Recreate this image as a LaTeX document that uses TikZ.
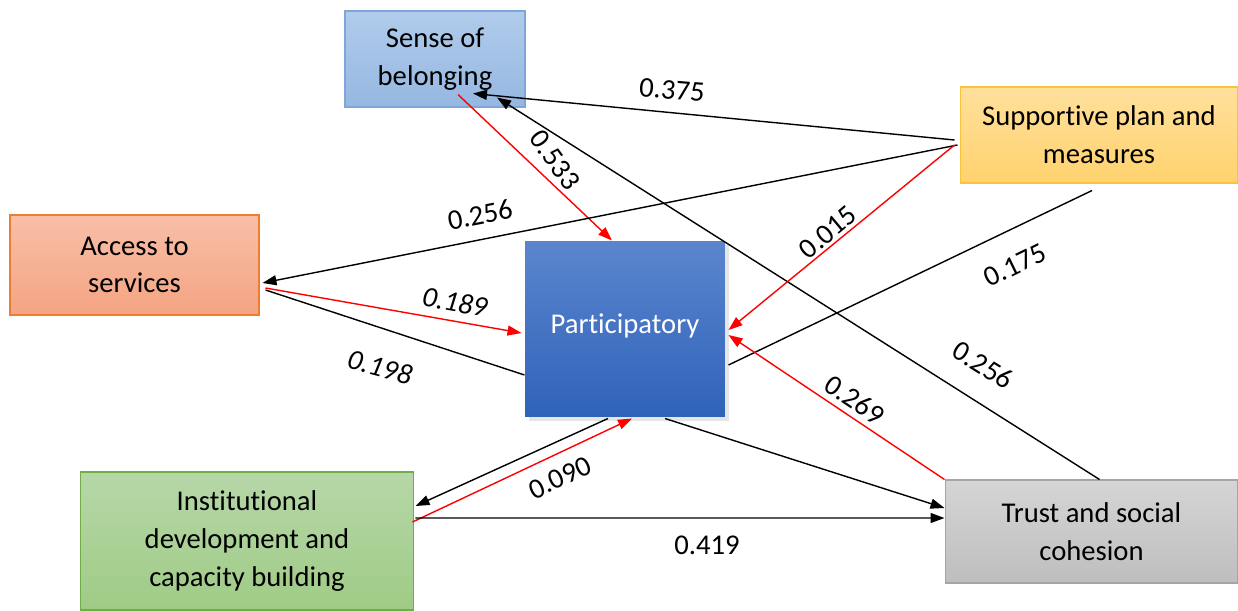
\documentclass[tikz,border=0pt]{standalone}
\usepackage{fontspec}
\setmainfont{Carlito}[RawFeature={-liga}]
\usepackage{tikz}
\usetikzlibrary{arrows.meta,calc,shadows}
\definecolor{sensetop}{HTML}{B1CCEB}
\definecolor{sensebot}{HTML}{95B7E1}
\definecolor{senseline}{HTML}{7EA6D9}
\definecolor{supptop}{HTML}{FFE09C}
\definecolor{suppbot}{HTML}{FFD26E}
\definecolor{suppline}{HTML}{F9C33B}
\definecolor{accesstop}{HTML}{F8BFA8}
\definecolor{accessbot}{HTML}{F4A482}
\definecolor{accessline}{HTML}{ED7D31}
\definecolor{parttop}{HTML}{5B86CD}
\definecolor{partbot}{HTML}{2F62BA}
\definecolor{insttop}{HTML}{B6D7A8}
\definecolor{instbot}{HTML}{9FCB86}
\definecolor{instline}{HTML}{70AD47}
\definecolor{trusttop}{HTML}{D5D5D5}
\definecolor{trustbot}{HTML}{BEBEBE}
\definecolor{trustline}{HTML}{A5A5A5}
\tikzstyle{factor} = [rectangle, align=center, inner sep=0pt, line width=0.6pt, font=\fontsize{16.3}{21.5}\selectfont]
\tikzstyle{link} = [line width=0.8pt, -{Triangle[length=0.28cm,width=0.2cm]}]
\tikzstyle{redlink} = [link, red]
\tikzstyle{plainlink} = [line width=0.8pt]
\tikzstyle{coef} = [font=\fontsize{16.3}{20}\selectfont, inner sep=1pt]

\begin{document}
\begin{tikzpicture}[x=0.02cm, y=0.02cm]
    \useasboundingbox (0,0) rectangle (1238,610);
    % factors
    \node[factor, top color=sensetop, bottom color=sensebot, draw=senseline, minimum width=3.6cm, minimum height=1.92cm] (sense) at (435,551) {Sense of\\belonging};
    \node[factor, top color=supptop, bottom color=suppbot, draw=suppline, minimum width=5.56cm, minimum height=1.92cm] (supp) at (1099,475) {Supportive plan and\\measures};
    \node[factor, top color=accesstop, bottom color=accessbot, draw=accessline, minimum width=4.98cm, minimum height=2cm] (access) at (134.5,345) {Access to\\services};
    \node[factor, top color=parttop, bottom color=partbot, text=white, minimum width=4cm, minimum height=3.52cm, drop shadow={shadow xshift=2pt, shadow yshift=-2pt, opacity=0.2}] (part) at (625,281) {\raisebox{6pt}{Participatory}};
    \node[factor, top color=insttop, bottom color=instbot, draw=instline, minimum width=6.68cm, minimum height=2.76cm] (inst) at (247,69) {Institutional\\development and\\capacity building};
    \node[factor, top color=trusttop, bottom color=trustbot, draw=trustline, minimum width=5.86cm, minimum height=2.06cm] (trust) at (1091.5,78.5) {Trust and social\\cohesion};

    % paths
    \draw[link] ($(supp.west)+(-5,-5)$) -- ($(sense.south)+(38,14)$);
    \draw[link] ($(trust.north)+(8,0)$) -- ($(sense.south)+(62,10)$);
    \draw[redlink] ($(sense.south)+(23,13)$) -- ($(part.north)+(-13,0)$);
    \draw[link] ($(supp.west)+(-2,-10)$) -- ($(access.east)+(3,-18)$);
    \draw[redlink] ($(supp.west)+(-5,-10)$) -- ($(part.east)+(3,-1)$);
    \draw[plainlink] ($(part.east)+(3,-36)$) -- ($(supp.south)+(-7,-7)$);
    \draw[redlink] ($(access.east)+(6,-23)$) -- ($(part.west)+(-3,-4)$);
    \draw[plainlink] ($(access.east)+(6,-25)$) -- ($(part.west)+(0,-46)$);
    \draw[link] ($(part.south)+(-17,-1)$) -- ($(inst.east)+(1,35)$);
    \draw[redlink] ($(inst.east)+(-2,19)$) -- ($(part.south)+(7,-1)$);
    \draw[link] ($(inst.east)+(1,23)$) -- ($(trust.west)+(0,13.5)$);
    \draw[link] ($(part.south)+(40,-1)$) -- ($(trust.west)+(0,23.5)$);
    \draw[redlink] (trust.north west) -- ($(part.east)+(3,-6)$);

    % coefficients
    \node[coef, rotate=-5] (c375) at (672,520) {0.375};
    \node[coef, rotate=-32] (c256b) at (983,245) {0.256};
    \node[coef, rotate=-54] (c533) at (555,450) {0.533};
    \node[coef, rotate=11] (c256a) at (480,395) {0.256};
    \node[coef, rotate=40] (c015) at (828,378) {0.015};
    \node[coef, rotate=26] (c175) at (1015,345) {0.175};
    \node[coef, rotate=-10, font=\fontsize{16.3}{20}\selectfont\itshape] (c189) at (455,308) {0.189};
    \node[coef, rotate=-15, font=\fontsize{16.3}{20}\selectfont\itshape] (c198) at (380,243) {0.198};
    \node[coef, rotate=25] (c090) at (560,132) {0.090};
    \node[coef] (c419) at (707,65) {0.419};
    \node[coef, rotate=-34] (c269) at (855,210) {0.269};
\end{tikzpicture}
\end{document}
